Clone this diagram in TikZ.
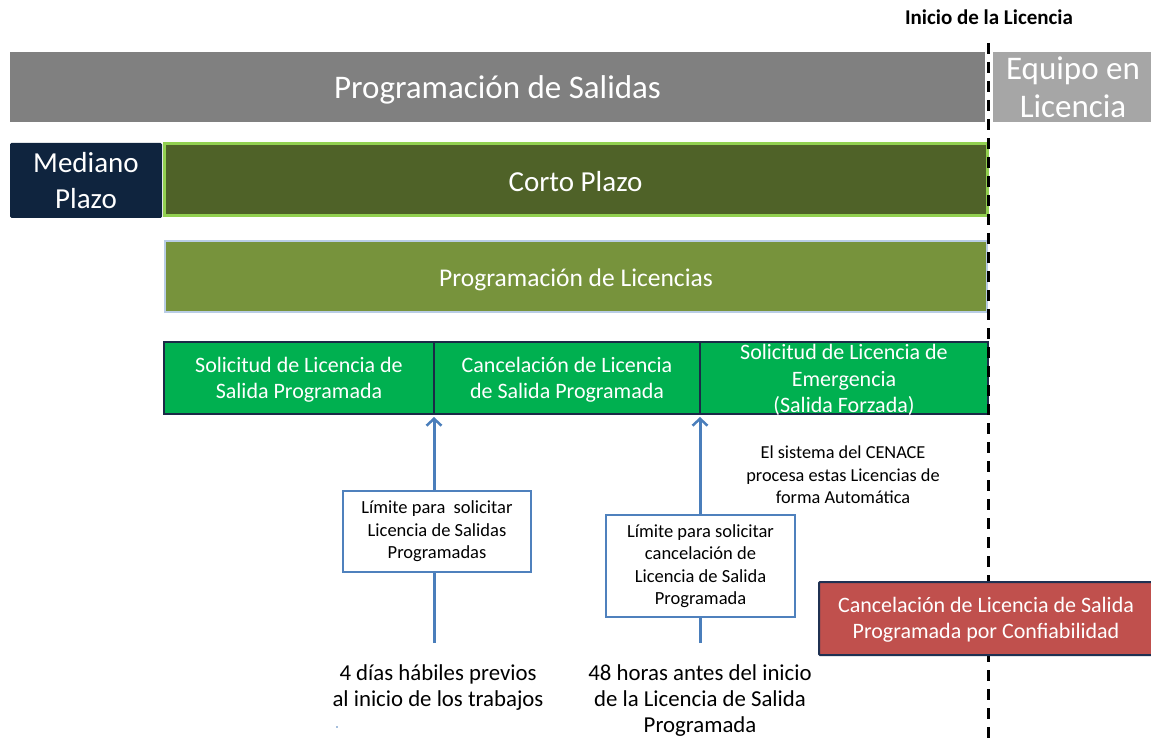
\documentclass[tikz,border=0pt]{standalone}
\usepackage{fontspec}
\setmainfont{Carlito}
\usetikzlibrary{arrows.meta}
\definecolor{grayA}{HTML}{808080}
\definecolor{grayB}{HTML}{A6A6A6}
\definecolor{navy}{HTML}{0F243E}
\definecolor{oliveD}{HTML}{4F6228}
\definecolor{limeB}{HTML}{92D050}
\definecolor{oliveL}{HTML}{77933C}
\definecolor{paleB}{HTML}{B9CDE5}
\definecolor{greenF}{HTML}{00B050}
\definecolor{darkB}{HTML}{1B2A47}
\definecolor{blueA}{HTML}{4A7EBB}
\definecolor{blueB}{HTML}{4F81BD}
\definecolor{redF}{HTML}{C0504D}
\definecolor{redB}{HTML}{1F3152}
\tikzset{
  bar/.style={inner sep=0pt, text=white, align=center},
  limbox/.style={draw=blueB, line width=1.6pt, fill=white, inner sep=0pt, align=center, font=\fontsize{18.5}{22.5}\selectfont},
  note/.style={inner sep=0pt, align=center},
  uparrow/.style={draw=blueA, line width=3pt, -{Straight Barb[length=7pt,width=15pt,line width=2.5pt]}},
  dashline/.style={draw=black, line width=3pt, dash pattern=on 11pt off 8pt}
}
\begin{document}
\begin{tikzpicture}[x=1pt,y=-1pt]
\useasboundingbox (0,0) rectangle (1151,738);
% top bars
\node[bar, fill=grayA, minimum width=975, minimum height=70] (salidas) at (497.5,87) {};
\node[bar, font=\fontsize{33}{36}\selectfont] (salidastxt) at (497.5,90) {Programación de Salidas};
\node[bar, fill=grayB, minimum width=160, minimum height=70, font=\fontsize{33}{38}\selectfont] (equipo) at (1073,87) {Equipo en\\Licencia};
\node[font=\bfseries\fontsize{21}{24}\selectfont, inner sep=0pt] (inicio) at (989,17) {Inicio de la Licencia};
% mediano / corto
\node[bar, fill=navy, rounded corners=1.5pt, minimum width=152, minimum height=75, font=\fontsize{29}{36}\selectfont] (mediano) at (86,180.5) {Mediano\\Plazo};
\node[bar, fill=oliveD, draw=limeB, line width=3pt, minimum width=823, minimum height=72] (corto) at (575.5,180) {};
\node[bar, font=\fontsize{29}{32}\selectfont] (cortotxt) at (575.5,181.5) {Corto Plazo};
% programacion de licencias
\node[bar, fill=oliveL, draw=paleB, line width=2pt, minimum width=822, minimum height=71] (proglic) at (576,276) {};
\node[bar, font=\fontsize{25.5}{28}\selectfont] (proglictxt) at (576,279.5) {Programación de Licencias};
% green row
\begin{scope}[font=\fontsize{22}{25.5}\selectfont]
\node[bar, fill=greenF, draw=darkB, line width=2.8pt, minimum width=270, minimum height=72] (sol) at (299,378) {};
\node[bar] (soltxt) at (299,380) {Solicitud de Licencia de\\Salida Programada};
\node[bar, fill=greenF, draw=darkB, line width=2.8pt, minimum width=266, minimum height=72] (canc) at (567,378) {};
\node[bar] (canctxt) at (567,380) {Cancelación de Licencia\\de Salida Programada};
\node[bar, fill=greenF, draw=darkB, line width=2.8pt, minimum width=288, minimum height=72] (emer) at (844,378) {};
\node[bar, font=\fontsize{22}{26.5}\selectfont] (emertxt) at (844,380) {Solicitud de Licencia de\\Emergencia\\(Salida Forzada)};
\end{scope}
% dashed line
\coordinate (dtop) at (988,43);
\coordinate (dbot) at (988,738);
\draw[dashline] (dtop) -- (dbot);
% arrows
\coordinate (a1) at (434,643);
\coordinate (a1t) at (434,417);
\coordinate (a2) at (700,643);
\coordinate (a2t) at (700,417);
\draw[uparrow] (a1) -- (a1t);
\draw[uparrow] (a2) -- (a2t);
% limit boxes
\node[limbox, minimum width=188, minimum height=81] (lim1) at (437,531.5) {Límite para \ solicitar\\Licencia de Salidas\\Programadas};
\node[limbox, minimum width=189, minimum height=102] (lim2) at (700.5,566) {Límite para solicitar\\cancelación de\\Licencia de Salida\\Programada};
% note
\node[note, font=\fontsize{18.3}{22.5}\selectfont] (cenace) at (843,475) {El sistema del CENACE\\procesa estas Licencias de\\forma Automática};
% bottom texts
\node[note, font=\fontsize{22.8}{26}\selectfont] (dias) at (438,688) {4 días hábiles previos\\al inicio de los trabajos};
\node[note, font=\fontsize{22.8}{26}\selectfont] (horas) at (700,701) {48 horas antes del inicio\\de la Licencia de Salida\\Programada};
\fill[blueA] (337,727) circle (0.8);
% red box
\node[bar, fill=redF, draw=redB, line width=2pt, rounded corners=1pt, minimum width=334, minimum height=73] (confi) at (986,618.5) {};
\node[bar, font=\fontsize{22}{25.5}\selectfont] (confitxt) at (986,619.5) {Cancelación de Licencia de Salida\\Programada por Confiabilidad};
\end{tikzpicture}
\end{document}
